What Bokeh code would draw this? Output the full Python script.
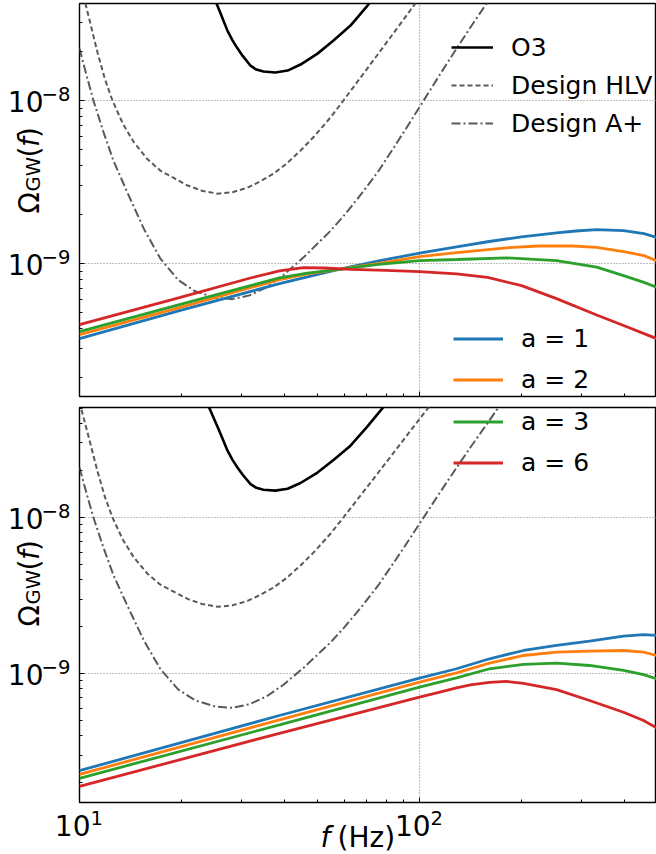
import math
import numpy as np
from bokeh.plotting import figure
from bokeh.layouts import column, row
from bokeh.models import (FixedTicker, CustomJSTickFormatter, Label, Legend,
                          LegendItem, Range1d)
from bokeh.embed import file_html
from bokeh.resources import INLINE

# ---------------- data (stored as log10 values) ----
o3_logf = [1.372, 1.403, 1.415, 1.435, 1.45, 1.465, 1.48, 1.503, 1.52, 1.541,
           1.576, 1.612, 1.650, 1.700, 1.747, 1.797, 1.847, 1.91]
o3_logo = [-7.25, -7.405, -7.466, -7.571, -7.631, -7.681, -7.726, -7.786,
           -7.81, -7.822, -7.828, -7.816, -7.779, -7.712, -7.632, -7.540,
           -7.417, -7.25]

hlv_logf = [1.0, 1.018, 1.053, 1.075, 1.097, 1.128, 1.159, 1.2, 1.238, 1.28,
            1.318, 1.36, 1.406, 1.45, 1.494, 1.53, 1.571, 1.61, 1.65, 1.69,
            1.738, 1.776, 1.853, 1.924, 1.991, 2.05]
hlv_logo = [-7.26, -7.41, -7.705, -7.87, -8.0, -8.144, -8.253, -8.36, -8.43,
            -8.478, -8.521, -8.553, -8.571, -8.562, -8.534, -8.497, -8.448,
            -8.385, -8.307, -8.22, -8.104, -8.0, -7.785, -7.585, -7.395, -7.23]

ap_logf = [1.0, 1.02, 1.041, 1.07, 1.10, 1.14, 1.19, 1.238, 1.29, 1.34, 1.40,
           1.45, 1.50, 1.55, 1.60, 1.66, 1.738, 1.78, 1.83, 1.88, 1.93, 1.97,
           2.012, 2.06, 2.10, 2.15, 2.197, 2.25]
ap_logo = [-7.68, -7.84, -8.0, -8.19, -8.37, -8.56, -8.79, -8.97, -9.10,
           -9.17, -9.21, -9.218, -9.195, -9.145, -9.07, -8.96, -8.80, -8.70,
           -8.57, -8.43, -8.27, -8.14, -8.0, -7.84, -7.71, -7.55, -7.405, -7.24]

# top panel, a = 1, 2, 3, 6
top_a1_logf = [1.0, 1.294, 1.588, 1.759, 1.88, 2.0, 2.109, 2.2, 2.3, 2.403,
               2.46, 2.521, 2.6, 2.66, 2.697]
top_a1_logo = [-9.46, -9.288, -9.123, -9.037, -8.984, -8.936, -8.897, -8.866,
               -8.836, -8.812, -8.800, -8.792, -8.798, -8.816, -8.839]
top_a2_logf = [1.0, 1.294, 1.588, 1.67, 1.759, 1.88, 2.0, 2.109, 2.256, 2.35,
               2.45, 2.521, 2.6, 2.66, 2.697]
top_a2_logo = [-9.436, -9.27, -9.098, -9.063, -9.037, -8.998, -8.957, -8.933,
               -8.903, -8.892, -8.892, -8.90, -8.926, -8.951, -8.982]
top_a3_logf = [1.0, 1.294, 1.5, 1.588, 1.67, 1.759, 1.88, 2.0, 2.109, 2.256,
               2.403, 2.521, 2.6, 2.66, 2.697]
top_a3_logo = [-9.417, -9.252, -9.137, -9.088, -9.058, -9.037, -9.005, -8.982,
               -8.975, -8.965, -8.982, -9.022, -9.074, -9.115, -9.145]
top_a6_logf = [1.0, 1.294, 1.50, 1.588, 1.659, 1.72, 1.80, 1.90, 2.0, 2.109,
               2.20, 2.30, 2.403, 2.521, 2.60, 2.697]
top_a6_logo = [-9.374, -9.209, -9.09, -9.045, -9.025, -9.027, -9.036, -9.042,
               -9.049, -9.063, -9.085, -9.135, -9.215, -9.315, -9.38, -9.46]

# bottom panel, a = 1, 2, 3, 6
bot_logf = [1.0, 1.588, 2.0, 2.109, 2.206, 2.306, 2.403, 2.5, 2.6, 2.659, 2.697]
bot_a1_logo = [-9.62, -9.267, -9.028, -8.968, -8.904, -8.851, -8.819, -8.791,
               -8.759, -8.75, -8.754]
bot_a2_logo = [-9.644, -9.295, -9.054, -8.994, -8.932, -8.883, -8.862, -8.855,
               -8.851, -8.862, -8.883]
bot_a3_logo = [-9.669, -9.327, -9.086, -9.026, -8.968, -8.94, -8.932, -8.947,
               -8.979, -9.006, -9.032]
bot_a6_logf = [1.0, 1.588, 2.0, 2.06, 2.109, 2.15, 2.206, 2.256, 2.306, 2.403,
               2.5, 2.6, 2.659, 2.697]
bot_a6_logo = [-9.721, -9.381, -9.15, -9.117, -9.09, -9.071, -9.055, -9.049,
               -9.061, -9.101, -9.171, -9.246, -9.299, -9.346]

a_labels = ["a = 1", "a = 2", "a = 3", "a = 6"]
a_colors = ["#1f77b4", "#ff7f0e", "#2ca02c", "#d62728"]
det_labels = ["O3", "Design HLV", "Design A+"]

x_range = (10, 497.7)
top_y_range = (1.53e-10, 3.94e-8)
bot_y_range = (1.50e-10, 5.06e-8)

x_major = [10, 100]
x_minor = [20, 30, 40, 50, 60, 70, 80, 90, 200, 300, 400]
y_major = [1e-9, 1e-8]
y_minor = [2e-10, 3e-10, 4e-10, 5e-10, 6e-10, 7e-10, 8e-10, 9e-10,
           2e-9, 3e-9, 4e-9, 5e-9, 6e-9, 7e-9, 8e-9, 9e-9,
           2e-8, 3e-8, 4e-8, 5e-8]
x_tick_text = [("10", "1"), ("10", "2")]
y_tick_text = [("10", "\u22129"), ("10", "\u22128")]
x_label = ("f", "(Hz)")

FONT = "DejaVu Sans"
GRAY = "#5a5a5a"
LEFT = 79          # width of the left label strip (px)
FRAME_W = 577


def P(v):
    return 10 ** np.asarray(v, dtype=float)


def main_fig(height, yr, bottom_border):
    p = figure(width=FRAME_W + 1, height=height, x_axis_type="log",
               y_axis_type="log", x_range=Range1d(*x_range),
               y_range=Range1d(*yr), output_backend="svg",
               toolbar_location=None, min_border_left=1, min_border_right=0,
               min_border_top=3, min_border_bottom=bottom_border)
    p.outline_line_color = "black"
    p.outline_line_width = 1.4
    p.border_fill_color = "white"
    for ax, maj, mnr in ((p.xaxis[0], x_major, x_minor),
                         (p.yaxis[0], y_major, y_minor)):
        ax.ticker = FixedTicker(ticks=maj, minor_ticks=mnr)
        ax.formatter = CustomJSTickFormatter(code="return ''")
        ax.major_label_text_font_size = "0px"
        ax.major_label_standoff = 0
        ax.axis_line_color = None
        ax.major_tick_in = 5
        ax.major_tick_out = 0
        ax.minor_tick_in = 3
        ax.minor_tick_out = 0
        ax.major_tick_line_color = "black"
        ax.minor_tick_line_color = "black"
    p.xgrid[0].ticker = FixedTicker(ticks=x_major)
    p.ygrid[0].ticker = FixedTicker(ticks=y_major)
    for g in (p.xgrid[0], p.ygrid[0]):
        g.grid_line_color = "#808080"
        g.grid_line_dash = "1 2"
        g.grid_line_width = 1.2
    return p


def strip_fig(width, height, xr, yr, top, bottom, x_log=False, y_log=False):
    s = figure(width=width, height=height,
               x_axis_type="log" if x_log else "linear",
               y_axis_type="log" if y_log else "linear",
               x_range=Range1d(*xr), y_range=Range1d(*yr),
               x_axis_location=None, y_axis_location=None,
               output_backend="svg", toolbar_location=None,
               min_border_left=0, min_border_right=0, min_border_top=top,
               min_border_bottom=bottom)
    s.outline_line_color = None
    s.grid.visible = False
    s.border_fill_color = "white"
    return s


def lbl(p, **kw):
    d = dict(text_font=FONT, text_color="black", text_baseline="middle")
    d.update(kw)
    p.add_layout(Label(**d))


def left_strip(height, yr, bottom_border, omega_sy):
    # omega_sy: canvas-pixel row where the rotated label starts (from top)
    s = strip_fig(LEFT - 1, height, (0, LEFT - 1), yr, 3, bottom_border,
                  y_log=True)
    for val, (base, sup) in zip(y_major, y_tick_text):
        lbl(s, x=43, y=val, y_offset=-1, text=base, text_align="right",
            text_font_size="28px")
        lbl(s, x=41, y=val, y_offset=7, text=sup, text_align="left",
            text_font_size="19.6px")
    b = height - omega_sy
    parts = [("\u03a9", 29, 0, "28px", "normal"),
             ("GW", 33, 22, "19.6px", "normal"),
             ("(", 29, 56, "28px", "normal"),
             ("f", 29, 66.5, "28px", "italic"),
             (")", 29, 75.5, "28px", "normal")]
    for t, x, dy, fs, st in parts:
        lbl(s, x=x, y=b + dy, y_units="screen", text=t, angle=math.pi / 2,
            text_align="left", text_font_size=fs, text_font_style=st)
    return s


def detector_curves(p):
    r1 = p.line(P(o3_logf), P(o3_logo), line_color="black", line_width=2.6)
    r2 = p.line(P(hlv_logf), P(hlv_logo), line_color=GRAY, line_width=2,
                line_dash="5 3")
    r3 = p.line(P(ap_logf), P(ap_logo), line_color=GRAY, line_width=2,
                line_dash="9 3 2 3")
    return [r1, r2, r3]


def legend(p, items, loc, gw, gh, standoff):
    lg = Legend(items=items, location=loc, orientation="vertical",
                glyph_width=gw, glyph_height=gh, label_height=gh,
                label_standoff=standoff, spacing=0, padding=0, margin=0,
                border_line_alpha=0, background_fill_alpha=0,
                label_text_font=FONT, label_text_font_size="25px",
                label_text_color="black")
    p.add_layout(lg)


# ---------------- top panel ----------------
TOP_FH = 393
top = main_fig(404, top_y_range, 8)
det_r = detector_curves(top)
top_series = [(top_a1_logf, top_a1_logo), (top_a2_logf, top_a2_logo),
              (top_a3_logf, top_a3_logo), (top_a6_logf, top_a6_logo)]
top_r = [top.line(P(fx), P(fy), line_color=c, line_width=2.8)
         for (fx, fy), c in zip(top_series, a_colors)]
legend(top, [LegendItem(label=l, renderers=[r]) for l, r in zip(det_labels, det_r)],
       (372, TOP_FH - 139), 42, 38, 18)
legend(top, [LegendItem(label=a_labels[i], renderers=[top_r[i]]) for i in (0, 1)],
       (374, -3.5), 50, 41, 18)
top_left = left_strip(404, top_y_range, 8, 221)

# ---------------- bottom panel ----------------
BOT_FH = 395
bot = main_fig(400, bot_y_range, 2)
detector_curves(bot)
bot_series = [(bot_logf, bot_a1_logo), (bot_logf, bot_a2_logo),
              (bot_logf, bot_a3_logo), (bot_a6_logf, bot_a6_logo)]
bot_r = [bot.line(P(fx), P(fy), line_color=c, line_width=2.8)
         for (fx, fy), c in zip(bot_series, a_colors)]
legend(bot, [LegendItem(label=a_labels[i], renderers=[bot_r[i]]) for i in (2, 3)],
       (374, 319.5), 50, 41, 18)
bot_left = left_strip(400, bot_y_range, 2, 224)

# ---------------- x tick labels and x label strip ----------------
dec = math.log10(x_range[1] / x_range[0])
strip_x0 = x_range[0] / 10 ** (LEFT * dec / FRAME_W)
xs = strip_fig(656, 50, (strip_x0, x_range[1]), (0, 50), 0, 0, x_log=True)
for val, (base, sup) in zip(x_major, x_tick_text):
    lbl(xs, x=val, y=29, y_units="screen", x_offset=11, text=base,
        text_align="right", text_font_size="28px")
    lbl(xs, x=val, y=36.5, y_units="screen", x_offset=11, text=sup,
        text_align="left", text_font_size="19.6px")
lbl(xs, x=320, y=17, x_units="screen", y_units="screen", text=x_label[0],
    text_align="left", text_font_size="28px", text_font_style="italic")
lbl(xs, x=337, y=17, x_units="screen", y_units="screen", text=x_label[1],
    text_align="left", text_font_size="28px")

layout = column(row(top_left, top, spacing=0), row(bot_left, bot, spacing=0),
                xs, spacing=0)
open("out.html", "w").write(file_html(layout, INLINE))
